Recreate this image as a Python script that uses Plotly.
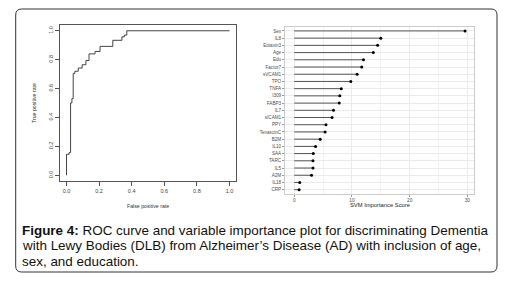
import plotly.graph_objects as go

# ROC curve step vertices (false positive rate, true positive rate)
roc_fpr = [0.0, 0.0, 0.016, 0.025, 0.033, 0.041, 0.051, 0.072, 0.096, 0.119, 0.138, 0.175, 0.206, 0.284, 0.34, 0.355, 0.37, 1.0]
roc_tpr = [0.0, 0.145, 0.157, 0.50, 0.53, 0.705, 0.72, 0.742, 0.765, 0.794, 0.84, 0.857, 0.892, 0.934, 0.958, 0.97, 1.0, 1.0]
roc_ticks = [0.0, 0.2, 0.4, 0.6, 0.8, 1.0]

# Variable importance (top to bottom)
features = ["Sex", "IL8", "Eotaxin3", "Age", "Edu", "Factor7", "sVCAM1", "TPO", "TNFA", "I309",
            "FABP3", "IL7", "sICAM1", "PPY", "TenascinC", "B2M", "IL10", "SAA", "TARC", "IL5",
            "A2M", "IL18", "CRP"]
importance = [29.6, 15.0, 14.45, 13.7, 12.0, 11.7, 10.9, 9.8, 8.15, 7.9,
              7.8, 6.8, 6.55, 5.5, 5.35, 4.5, 3.7, 3.3, 3.25, 3.25,
              3.0, 0.95, 0.85]
imp_ticks = [0, 10, 20, 30]

caption_lines = [
    "<b>Figure 4:</b> ROC curve and variable importance plot for discriminating Dementia",
    "with Lewy Bodies (DLB) from Alzheimer\u2019s Disease (AD) with inclusion of age,",
    "sex, and education.",
]

W, H = 507, 282
def px(x): return x / W
def py(y): return 1 - y / H

fig = go.Figure()

fig.add_trace(go.Scatter(x=roc_fpr, y=roc_tpr, mode="lines", line=dict(color="#444444", width=1, shape="hv"),
                         xaxis="x", yaxis="y", showlegend=False, hoverinfo="skip"))

seg_x, seg_y = [], []
for f, v in zip(features, importance):
    seg_x += [0, v, None]
    seg_y += [f, f, None]
fig.add_trace(go.Scatter(x=seg_x, y=seg_y, mode="lines", line=dict(color="#555555", width=1),
                         xaxis="x2", yaxis="y2", showlegend=False, hoverinfo="skip"))
fig.add_trace(go.Scatter(x=importance, y=features, mode="markers", marker=dict(color="black", size=3),
                         xaxis="x2", yaxis="y2", showlegend=False))

font_main = "Liberation Sans, Arial, sans-serif"

fig.update_layout(
    width=W, height=H, margin=dict(l=0, r=0, t=0, b=0),
    paper_bgcolor="white", plot_bgcolor="white",
    font=dict(family=font_main),
    xaxis=dict(domain=[px(60), px(236)], range=[-0.04, 1.04], tickvals=roc_ticks, tickformat=".1f",
               showgrid=False, zeroline=False, showline=True, mirror=True, linecolor="#555555", linewidth=1,
               ticks="outside", ticklen=4, tickcolor="#555555", tickfont=dict(size=5.5, color="#444444"),
               anchor="y", fixedrange=True),
    yaxis=dict(domain=[py(181), py(25)], range=[-0.04, 1.04], tickvals=roc_ticks, tickformat=".1f",
               showgrid=False, zeroline=False, showline=True, mirror=True, linecolor="#555555", linewidth=1,
               ticks="outside", ticklen=4, tickcolor="#555555", tickfont=dict(size=5.5, color="#444444"),
               tickangle=-90, anchor="x", fixedrange=True),
    xaxis2=dict(domain=[px(285), px(474.3)], range=[-1.6, 31.2], tickvals=imp_ticks,
                showgrid=True, gridcolor="#ebebeb", gridwidth=0.6,
                minor=dict(tickvals=[5, 15, 25], showgrid=True, gridcolor="#f2f2f2", gridwidth=0.4),
                zeroline=False, showline=True, mirror=True, linecolor="#cccccc", linewidth=1,
                ticks="outside", ticklen=1.5, tickcolor="#999999", tickfont=dict(size=4.8, color="#4d4d4d"),
                anchor="y2", fixedrange=True),
    yaxis2=dict(domain=[py(194), py(26.6)], type="category", categoryorder="array",
                categoryarray=features[::-1], range=[-0.6, len(features) - 0.4],
                showgrid=True, gridcolor="#ebebeb", gridwidth=0.6,
                zeroline=False, showline=True, mirror=True, linecolor="#cccccc", linewidth=1,
                ticks="outside", ticklen=2, tickcolor="#999999", tickfont=dict(size=4.6, color="#4d4d4d"),
                anchor="x2", fixedrange=True),
)

annotations = [
    dict(text="False positive rate", x=px(148), y=py(206), xref="paper", yref="paper",
         showarrow=False, font=dict(size=5.2, color="#333333"), xanchor="center", yanchor="middle"),
    dict(text="True positive rate", x=px(34), y=py(103), xref="paper", yref="paper", textangle=-90,
         showarrow=False, font=dict(size=5.2, color="#333333"), xanchor="center", yanchor="middle"),
    dict(text="SVM Importance Score", x=px(379.6), y=py(205), xref="paper", yref="paper",
         showarrow=False, font=dict(size=5.8, color="#222222"), xanchor="center", yanchor="middle"),
]
for i, line in enumerate(caption_lines):
    annotations.append(dict(text=line, x=px(19.5), y=py(230 + 15.5 * i), xref="paper", yref="paper",
                            showarrow=False, font=dict(size=13.45, color="#111111", family=font_main),
                            xanchor="left", yanchor="middle"))
fig.update_layout(annotations=annotations)

# Rounded border
x0, x1, y0, y1 = px(15.7), px(497), py(9), py(272)
rx, ry = 6 / W, 6 / H
path = (f"M {x0+rx},{y0} L {x1-rx},{y0} Q {x1},{y0} {x1},{y0-ry} L {x1},{y1+ry} Q {x1},{y1} {x1-rx},{y1} "
        f"L {x0+rx},{y1} Q {x0},{y1} {x0},{y1+ry} L {x0},{y0-ry} Q {x0},{y0} {x0+rx},{y0} Z")
fig.add_shape(type="path", path=path, xref="paper", yref="paper", line=dict(color="#333333", width=1))
fig.add_shape(type="line", x0=x0 + rx, x1=x1 - rx, y0=y0, y1=y0, xref="paper", yref="paper",
              line=dict(color="#999999", width=2))

fig.write_html("out.html", config={"displayModeBar": False},
               post_script="document.body.style.margin='0';document.body.style.overflow='hidden';")
